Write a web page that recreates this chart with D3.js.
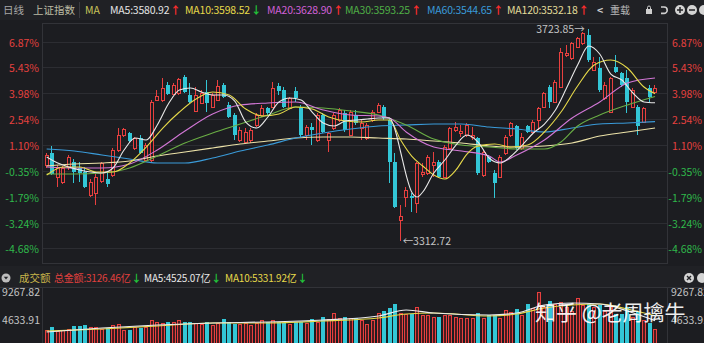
<!DOCTYPE html>
<html>
<head>
<meta charset="utf-8">
<script src="https://cdn.jsdelivr.net/npm/d3@7/dist/d3.min.js"></script>
<style>
  body { margin: 0; background: #1c1d21; }
  svg { display: block; font-family: "Noto Sans CJK SC", "Noto Sans", sans-serif; }
</style>
</head>
<body>
<svg width="704" height="343"></svg>
<script>
// daily candles of the index, left to right
var opens = [
  3460.6, 3483.9, 3437.4, 3427.8, 3456.8, 3466.4, 3454.8, 3447.1, 3402.6, 3406.5,
  3429.7, 3433.6, 3441.3, 3489.6, 3518.7, 3522.5, 3493.5, 3512.8, 3470.3, 3470.3,
  3586.4, 3586.4, 3615.4, 3597.9, 3599.9, 3630.8, 3596.0, 3565.1, 3580.6, 3601.8,
  3572.8, 3586.4, 3615.4, 3576.7, 3557.3, 3509.0, 3505.1, 3509.0, 3538.0, 3557.3,
  3570.9, 3572.8, 3613.4, 3605.7, 3570.9, 3603.8, 3572.8, 3518.7, 3534.1, 3509.0,
  3557.3, 3509.0, 3532.2, 3547.7, 3561.2, 3518.7, 3557.3, 3532.2, 3512.8, 3547.7,
  3563.1, 3572.8, 3547.7, 3466.4, 3354.3, 3398.8, 3400.7, 3387.2, 3443.2, 3445.2,
  3460.6, 3466.4, 3437.4, 3493.5, 3528.3, 3522.5, 3518.7, 3514.8, 3512.8, 3441.3,
  3476.1, 3445.2, 3437.4, 3483.8, 3518.7, 3536.1, 3493.5, 3536.1, 3524.5, 3547.7,
  3572.8, 3611.5, 3582.5, 3611.5, 3673.4, 3667.6, 3688.9, 3696.6, 3712.1, 3644.4,
  3648.2, 3590.2, 3563.1, 3650.2, 3638.6, 3628.9, 3572.8, 3572.8, 3543.8, 3609.6,
  3601.8
];
var highs = [
  3483.9, 3497.4, 3460.6, 3458.7, 3480.0, 3472.2, 3466.4, 3456.8, 3433.6, 3443.2,
  3466.4, 3447.1, 3493.5, 3532.2, 3532.2, 3524.5, 3514.8, 3518.7, 3503.2, 3586.4,
  3605.7, 3628.9, 3621.2, 3619.2, 3628.9, 3634.7, 3619.2, 3611.5, 3605.7, 3625.0,
  3599.9, 3625.0, 3619.2, 3582.5, 3561.2, 3534.1, 3532.2, 3532.2, 3561.2, 3576.7,
  3572.8, 3621.2, 3619.2, 3611.5, 3592.2, 3611.5, 3576.7, 3538.0, 3541.9, 3561.2,
  3561.2, 3524.5, 3561.2, 3570.9, 3567.0, 3567.0, 3567.0, 3547.7, 3541.9, 3567.0,
  3580.6, 3576.7, 3551.5, 3483.8, 3383.3, 3418.1, 3406.5, 3466.4, 3464.5, 3480.0,
  3485.8, 3470.3, 3499.3, 3534.1, 3543.8, 3538.0, 3541.9, 3534.1, 3514.8, 3489.6,
  3480.0, 3451.0, 3480.0, 3518.7, 3543.8, 3538.0, 3522.5, 3538.0, 3547.7, 3572.8,
  3601.8, 3615.4, 3625.0, 3686.9, 3692.7, 3698.5, 3708.2, 3717.9, 3723.85, 3669.5,
  3669.5, 3621.2, 3630.8, 3673.4, 3640.5, 3644.4, 3609.6, 3576.7, 3572.8, 3615.4,
  3615.4
];
var lows = [
  3454.8, 3441.3, 3418.1, 3423.9, 3451.0, 3425.8, 3427.8, 3416.2, 3398.8, 3383.3,
  3425.8, 3418.1, 3437.4, 3485.8, 3514.8, 3505.1, 3489.6, 3481.9, 3466.4, 3466.4,
  3584.4, 3582.5, 3596.0, 3596.0, 3596.0, 3599.9, 3580.6, 3563.1, 3578.0, 3563.1,
  3570.0, 3584.4, 3590.2, 3551.5, 3509.0, 3505.1, 3503.2, 3503.2, 3534.1, 3553.5,
  3557.3, 3570.9, 3596.0, 3570.9, 3568.9, 3582.5, 3514.8, 3509.0, 3499.3, 3505.1,
  3522.5, 3485.8, 3528.3, 3543.8, 3524.5, 3516.7, 3538.0, 3509.0, 3509.0, 3543.8,
  3561.2, 3547.7, 3425.8, 3377.5, 3312.72, 3379.4, 3369.7, 3367.8, 3437.4, 3441.3,
  3437.4, 3435.5, 3435.5, 3489.6, 3524.5, 3514.8, 3514.8, 3509.0, 3441.3, 3437.4,
  3464.5, 3396.8, 3435.5, 3480.0, 3514.8, 3489.6, 3489.6, 3522.5, 3522.5, 3528.3,
  3570.9, 3570.9, 3580.6, 3609.6, 3669.5, 3663.7, 3686.9, 3692.7, 3659.8, 3644.4,
  3601.8, 3586.4, 3561.2, 3638.6, 3611.5, 3561.2, 3570.9, 3518.7, 3541.9, 3582.5,
  3597.9
];
var closes = [
  3480.0, 3443.2, 3456.8, 3454.8, 3476.1, 3447.1, 3445.2, 3418.1, 3427.8, 3437.4,
  3464.5, 3423.9, 3489.6, 3518.7, 3530.3, 3507.0, 3512.8, 3483.8, 3499.3, 3582.5,
  3594.1, 3609.6, 3597.9, 3615.4, 3627.0, 3601.8, 3582.5, 3596.0, 3599.9, 3580.6,
  3596.0, 3613.4, 3592.2, 3553.5, 3518.7, 3528.3, 3524.5, 3528.3, 3557.3, 3570.9,
  3561.2, 3609.6, 3603.8, 3572.8, 3590.2, 3590.2, 3518.7, 3534.1, 3528.3, 3557.3,
  3524.5, 3522.5, 3557.3, 3567.0, 3528.3, 3563.1, 3541.9, 3541.9, 3538.0, 3563.1,
  3576.7, 3551.5, 3466.4, 3379.4, 3362.0, 3412.3, 3396.8, 3464.5, 3447.1, 3476.1,
  3466.4, 3437.4, 3495.4, 3532.2, 3534.1, 3526.4, 3538.0, 3518.7, 3445.2, 3485.8,
  3466.4, 3425.8, 3476.1, 3514.8, 3541.9, 3493.5, 3514.8, 3524.5, 3543.8, 3570.9,
  3599.9, 3582.5, 3621.2, 3679.2, 3677.2, 3696.6, 3706.3, 3715.9, 3663.7, 3659.8,
  3605.7, 3615.4, 3628.9, 3640.5, 3615.4, 3582.5, 3605.7, 3536.1, 3570.9, 3592.2,
  3609.6
];
// turnover, 亿
var volumes = [
  2979, 3525, 2814, 2979, 3145, 3641, 3641, 3807, 3525, 3525,
  3145, 3310, 3807, 3972, 2979, 2979, 3525, 3360, 3525, 4634,
  4353, 4138, 4353, 4303, 4634, 4303, 4303, 4138, 3972, 4303,
  3807, 4138, 4800, 4353, 3972, 3972, 4138, 3807, 4138, 4634,
  4303, 4634, 4353, 4138, 3972, 4303, 4303, 4138, 4800, 4303,
  5180, 4800, 5793, 4965, 5180, 4965, 4965, 4634, 3972, 4634,
  5793, 6124, 6620, 7282, 5793, 5627, 5627, 6786, 5462, 5462,
  5131, 5131, 5462, 5462, 5131, 4965, 4965, 4965, 5793, 4965,
  5462, 5462, 4965, 6289, 5958, 6455, 5462, 7282, 6620, 9267.82,
  6786, 7779, 7282, 7613, 6786, 6124, 8275, 7117, 7282, 6786,
  7117, 6124, 7117, 5600, 5600, 6786, 5100, 6000, 4600, 4200,
  3126.46
];

// moving average lines: [day index, value]
var ma5Pts = [[0,3476.1],[2,3464.5],[4,3456.8],[6,3451.0],[8,3447.1],[10,3445.2],[12,3454.8],[14,3489.6],
  [16,3512.8],[18,3509.0],[20,3538.0],[22,3578.6],[24,3605.7],[26,3609.6],[28,3601.8],[30,3596.0],
  [32,3596.0],[34,3584.4],[36,3543.8],[38,3532.2],[40,3553.5],[42,3582.5],[44,3590.2],[46,3586.4],
  [48,3563.1],[50,3541.9],[52,3536.1],[54,3545.7],[56,3547.7],[58,3549.6],[60,3551.5],[62,3551.5],
  [63,3528.3],[64,3485.8],[65,3441.3],[66,3408.4],[67,3398.8],[68,3408.4],[70,3445.2],[72,3470.3],
  [74,3499.3],[76,3518.7],[78,3505.1],[80,3474.2],[82,3464.5],[84,3478.0],[86,3499.3],[88,3522.5],
  [90,3539.9],[92,3567.0],[94,3609.6],[96,3654.0],[98,3690.8],[100,3675.3],[102,3636.6],[104,3625.0],
  [106,3599.9],[108,3582.5],[110,3580.92]];
var ma10Pts = [[0,3441.3],[3,3456.8],[6,3456.8],[9,3447.1],[12,3447.1],[15,3464.5],[18,3495.4],[21,3532.2],
  [24,3563.1],[27,3588.3],[30,3601.8],[33,3596.0],[36,3568.9],[39,3555.4],[42,3559.3],[45,3572.8],
  [48,3568.9],[51,3553.5],[54,3545.7],[57,3543.8],[60,3547.7],[62,3547.7],[64,3509.0],[66,3478.0],
  [68,3458.7],[70,3441.3],[72,3433.6],[74,3451.0],[76,3481.9],[78,3497.4],[81,3501.2],[84,3495.4],
  [87,3499.3],[90,3524.5],[93,3563.1],[96,3613.4],[99,3654.0],[102,3663.7],[105,3648.2],[108,3611.5],
  [110,3598.52]];
var ma20Pts = [[0,3456.8],[5,3454.8],[10,3454.8],[15,3462.6],[20,3489.6],[25,3526.4],[30,3559.3],[35,3576.7],
  [40,3580.6],[45,3582.5],[50,3567.0],[55,3557.3],[60,3555.4],[62,3551.5],[65,3524.5],[70,3495.4],
  [75,3487.7],[80,3478.0],[82,3466.4],[85,3480.0],[90,3509.0],[95,3551.5],[100,3582.5],[105,3619.2],
  [110,3628.90]];
var ma30Pts = [[0,3443.2],[5,3443.2],[10,3445.2],[15,3454.8],[20,3478.0],[25,3503.2],[30,3522.5],[35,3539.9],
  [40,3557.3],[45,3572.8],[50,3570.9],[55,3565.1],[60,3557.3],[65,3538.0],[70,3510.9],[75,3499.3],
  [80,3495.4],[85,3491.6],[90,3491.6],[93,3505.1],[96,3536.1],[100,3557.3],[105,3576.7],[110,3593.25]];
var ma60Pts = [[0,3491.6],[5,3487.7],[10,3480.0],[15,3472.2],[20,3464.5],[25,3464.5],[30,3474.2],[35,3487.7],
  [40,3499.3],[45,3512.8],[50,3522.5],[55,3530.3],[60,3536.1],[65,3538.0],[70,3539.9],[75,3539.9],
  [80,3534.1],[85,3530.3],[90,3524.5],[95,3532.2],[100,3539.9],[105,3541.9],[110,3544.65]];
var ma120Pts = [[0,3458.7],[5,3462.6],[10,3464.5],[15,3468.4],[20,3478.0],[25,3485.8],[30,3493.5],[35,3501.2],
  [40,3507.0],[45,3512.8],[50,3514.8],[55,3514.8],[60,3512.8],[65,3510.9],[70,3507.0],[75,3503.2],
  [80,3497.4],[85,3495.4],[90,3497.4],[95,3503.2],[100,3516.7],[105,3524.5],[110,3532.18]];
var volMa5Pts = [[0,2648],[10,3310],[20,3807],[30,4138],[40,4303],[50,4634],[60,5296],[65,6289],[70,5793],
  [80,5462],[85,5793],[90,7117],[95,7448],[100,7282],[105,6124],[110,4525.07]];
var volMa10Pts = [[0,2814],[10,3145],[20,3641],[30,4138],[40,4138],[50,4469],[60,4965],[65,5627],[70,5793],
  [80,5296],[85,5627],[90,6620],[95,7117],[100,7282],[105,6455],[110,5331.92]];

// legends
var maNames = ['MA5', 'MA10', 'MA20', 'MA30', 'MA60', 'MA120'];
var maLast = [3580.92, 3598.52, 3628.90, 3593.25, 3544.65, 3532.18];
var maRising = [true, false, true, true, true, true];
var turnoverTotal = 3126.46;
var volMaLast = [4525.07, 5331.92];

// axes
var pctTicks = [6.87, 5.43, 3.98, 2.54, 1.10, -0.35, -1.79, -3.24, -4.68];
var baseClose = 3461.3;
var volTicks = [9267.82, 4633.91];
var highIdx = 98, lowIdx = 64;

var svg = d3.select('svg');
var W = 704, H = 343;
var plot = { l: 42, r: 667, t: 23, b: 263 };
var RED = '#e8403f', CYAN = '#33c6d6', RED_LBL = '#e5413f', GREEN_LBL = '#2fb84b';
var maColors = ['#e8e8e8', '#e6d94a', '#d277d6', '#6aae45', '#3a9bd9', '#ece2a8'];
var legColors = ['#e4e4e4', '#e6d94a', '#d060d6', '#4fae45', '#3a9bd9', '#e0dc9a'];
var FS = 10.5;

svg.append('rect').attr('width', W).attr('height', H).attr('fill', '#1c1d21');
svg.append('rect').attr('width', W).attr('height', 20).attr('fill', '#202125');

// scales
var N = closes.length;
var x = d3.scaleBand().domain(d3.range(N)).range([43.9, 657.8]).paddingInner(0.32).paddingOuter(0.16);
function xc(i) { return x(i) + x.bandwidth() / 2; }
var y = d3.scaleLinear().domain([3271.1, 3735.3]).range([plot.b, plot.t]);
var yv = d3.scaleLinear().domain([0, 9267.82]).range([348, 292]);

// ---- main panel frame + grid
var grid = svg.append('g');
pctTicks.forEach(function(p) {
  var gy = Math.round(y(baseClose * (1 + p / 100))) + 0.5;
  grid.append('line').attr('x1', plot.l).attr('x2', plot.r).attr('y1', gy).attr('y2', gy)
    .attr('stroke', '#2c2d32');
  var col = p > 0 ? RED_LBL : GREEN_LBL;
  var lbl = p.toFixed(2) + '%';
  grid.append('text').attr('x', 39).attr('y', gy + 4).attr('text-anchor', 'end')
    .attr('font-size', FS).attr('fill', col).text(lbl);
  grid.append('text').attr('x', 702).attr('y', gy + 4).attr('text-anchor', 'end')
    .attr('font-size', FS).attr('fill', col).text(lbl);
});
svg.append('rect').attr('x', plot.l + 0.5).attr('y', plot.t + 0.5)
  .attr('width', plot.r - plot.l).attr('height', plot.b - plot.t)
  .attr('fill', 'none').attr('stroke', '#323338');

// ---- candles
var bw = Math.round(x.bandwidth());
var candles = svg.append('g').attr('shape-rendering', 'crispEdges');
d3.range(N).forEach(function(i) {
  var up = closes[i] >= opens[i];
  var col = up ? RED : CYAN;
  var left = Math.round(xc(i) - bw / 2);
  var top = Math.round(y(Math.max(opens[i], closes[i])));
  var bot = Math.round(y(Math.min(opens[i], closes[i])));
  candles.append('line')
    .attr('x1', left + 1.5).attr('x2', left + 1.5)
    .attr('y1', Math.round(y(highs[i]))).attr('y2', Math.round(y(lows[i])))
    .attr('stroke', col);
  if (up) {
    candles.append('rect').attr('x', left + 0.5).attr('y', top + 0.5)
      .attr('width', bw - 1).attr('height', Math.max(bot - top, 1))
      .attr('fill', '#1c1d21').attr('stroke', col);
  } else {
    candles.append('rect').attr('x', left).attr('y', top)
      .attr('width', bw).attr('height', Math.max(bot - top, 1))
      .attr('fill', col);
  }
});

// ---- moving averages
var line = d3.line().x(function(d) { return xc(d[0]); }).y(function(d) { return y(d[1]); })
  .curve(d3.curveMonotoneX);
[ma120Pts, ma60Pts, ma30Pts, ma20Pts, ma10Pts, ma5Pts].forEach(function(pts, k) {
  svg.append('path').attr('d', line(pts)).attr('fill', 'none')
    .attr('stroke', maColors[5 - k]).attr('stroke-width', 1.1);
});

// high / low marks
svg.append('text').attr('x', xc(highIdx) - 4).attr('y', y(highs[highIdx]) + 4)
  .attr('text-anchor', 'end').attr('font-size', 10.5).attr('fill', '#c4c4c4')
  .text(highs[highIdx].toFixed(2) + '→');
svg.append('text').attr('x', xc(lowIdx) + 2).attr('y', y(lows[lowIdx]) + 4)
  .attr('font-size', 10.5).attr('fill', '#c4c4c4')
  .text('←' + lows[lowIdx].toFixed(2));

// ---- header row
var hdr = svg.append('g').attr('font-size', FS);
hdr.append('text').attr('x', 3).attr('y', 14).attr('fill', '#a8a8a8').text('日线');
hdr.append('text').attr('x', 33).attr('y', 14).attr('fill', '#bcbca4').text('上证指数');
hdr.append('line').attr('x1', 79.5).attr('x2', 79.5).attr('y1', 2).attr('y2', 18).attr('stroke', '#3a3b40');
hdr.append('text').attr('x', 85).attr('y', 14).attr('fill', '#c9c35a').text('MA');
var legX = [110, 185, 267, 345, 427, 507];
maNames.forEach(function(n, k) {
  var t = hdr.append('text').attr('x', legX[k]).attr('y', 14).attr('fill', legColors[k]);
  t.append('tspan').attr('letter-spacing', -0.2).text(n + ':' + maLast[k].toFixed(2));
  t.append('tspan').attr('dx', 1).attr('font-weight', 'bold')
    .attr('fill', maRising[k] ? '#ff2d2d' : '#22c43a').text(maRising[k] ? '↑' : '↓');
});
hdr.append('text').attr('x', 597).attr('y', 14).attr('fill', '#cfcfcf').attr('font-weight', 'bold').text('<');
hdr.append('text').attr('x', 610).attr('y', 14).attr('font-size', 10).attr('fill', '#b8b8b8').text('重载');
// small toolbar icons
hdr.append('rect').attr('x', 646).attr('y', 9).attr('width', 6).attr('height', 5).attr('fill', '#cfcfcf');
hdr.append('path').attr('d', 'M647.5,9 v-1.5 a1.5,1.5 0 0 1 3,0 v1.5').attr('fill', 'none').attr('stroke', '#cfcfcf');
hdr.append('path').attr('d', 'M661,7 h3 a3.2,3.2 0 0 1 0,6.4 h-3').attr('fill', 'none').attr('stroke', '#cfcfcf').attr('stroke-width', 1.6);
hdr.append('circle').attr('cx', 680).attr('cy', 10).attr('r', 5).attr('fill', '#d4d4d4');
hdr.append('path').attr('d', 'M677,10 h6 M680,7 v6').attr('stroke', '#202125').attr('stroke-width', 1.5);
hdr.append('circle').attr('cx', 692).attr('cy', 10).attr('r', 5).attr('fill', '#d4d4d4');
hdr.append('path').attr('d', 'M689,10 h6').attr('stroke', '#202125').attr('stroke-width', 1.5);
hdr.append('circle').attr('cx', 704).attr('cy', 10).attr('r', 5).attr('fill', '#d4d4d4');

// ---- volume panel
svg.append('rect').attr('x', 0).attr('y', 266).attr('width', W).attr('height', 21).attr('fill', '#202125');
svg.append('line').attr('x1', 0).attr('x2', W).attr('y1', 287.5).attr('y2', 287.5).attr('stroke', '#323338');
svg.append('line').attr('x1', plot.l + 0.5).attr('x2', plot.l + 0.5).attr('y1', 287).attr('y2', H).attr('stroke', '#323338');
svg.append('line').attr('x1', plot.r + 0.5).attr('x2', plot.r + 0.5).attr('y1', 287).attr('y2', H).attr('stroke', '#323338');

var vh = svg.append('g').attr('font-size', 10);
vh.append('circle').attr('cx', 6).attr('cy', 278).attr('r', 4.5).attr('fill', '#bdbdbd');
vh.append('path').attr('d', 'M3.8,276.8 h4.4 l-2.2,2.8 z').attr('fill', '#202125');
vh.append('text').attr('x', 19).attr('y', 282).attr('font-size', FS).attr('fill', '#c8b44a').text('成交额');
var vt = vh.append('text').attr('x', 54).attr('y', 282).attr('fill', '#e0403e').attr('letter-spacing', -0.2);
vt.append('tspan').text('总金额:' + turnoverTotal.toFixed(2) + '亿');
vt.append('tspan').attr('dx', 1).attr('font-weight', 'bold').attr('fill', '#22c43a').text('↓');
var vt5 = vh.append('text').attr('x', 144).attr('y', 282).attr('fill', '#e6e6e6').attr('letter-spacing', -0.2);
vt5.append('tspan').text('MA5:' + volMaLast[0].toFixed(2) + '亿');
vt5.append('tspan').attr('dx', 1).attr('font-weight', 'bold').attr('fill', '#22c43a').text('↓');
var vt10 = vh.append('text').attr('x', 225).attr('y', 282).attr('fill', '#e6d94a').attr('letter-spacing', -0.2);
vt10.append('tspan').text('MA10:' + volMaLast[1].toFixed(2) + '亿');
vt10.append('tspan').attr('dx', 1).attr('font-weight', 'bold').attr('fill', '#22c43a').text('↓');
vh.append('circle').attr('cx', 689).attr('cy', 278).attr('r', 5).attr('fill', '#d4d4d4');
vh.append('path').attr('d', 'M687,276 l4,4 M691,276 l-4,4').attr('stroke', '#202125').attr('stroke-width', 1.4);
vh.append('circle').attr('cx', 702).attr('cy', 278).attr('r', 5).attr('fill', '#d4d4d4');

volTicks.forEach(function(v) {
  var ty = yv(v);
  svg.append('text').attr('x', 40).attr('y', ty + 4).attr('text-anchor', 'end')
    .attr('font-size', FS).attr('fill', '#c4c4c4').text(v.toFixed(2));
  svg.append('text').attr('x', 671).attr('y', ty + 4)
    .attr('font-size', FS).attr('fill', '#c4c4c4').text(v.toFixed(2));
});

var vols = svg.append('g').attr('shape-rendering', 'crispEdges');
d3.range(N).forEach(function(i) {
  var up = closes[i] >= opens[i];
  var left = Math.round(xc(i) - bw / 2);
  var top = Math.round(yv(volumes[i]));
  if (up) {
    vols.append('rect').attr('x', left + 0.5).attr('y', top + 0.5)
      .attr('width', bw - 1).attr('height', yv(0) - top)
      .attr('fill', '#4a1b1e').attr('stroke', RED);
  } else {
    vols.append('rect').attr('x', left).attr('y', top)
      .attr('width', bw).attr('height', yv(0) - top).attr('fill', CYAN);
  }
});

var vline = d3.line().x(function(d) { return xc(d[0]); }).y(function(d) { return yv(d[1]); })
  .curve(d3.curveMonotoneX);
svg.append('path').attr('d', vline(volMa10Pts)).attr('fill', 'none').attr('stroke', '#e6d94a').attr('stroke-width', 1.2);
svg.append('path').attr('d', vline(volMa5Pts)).attr('fill', 'none').attr('stroke', '#ececec').attr('stroke-width', 1.2);

// watermark
svg.append('text').attr('x', 535).attr('y', 320).attr('font-size', 21)
  .attr('fill', '#ffffff').attr('opacity', 0.92).text('知乎 @老周擒牛');
</script>
</body>
</html>
